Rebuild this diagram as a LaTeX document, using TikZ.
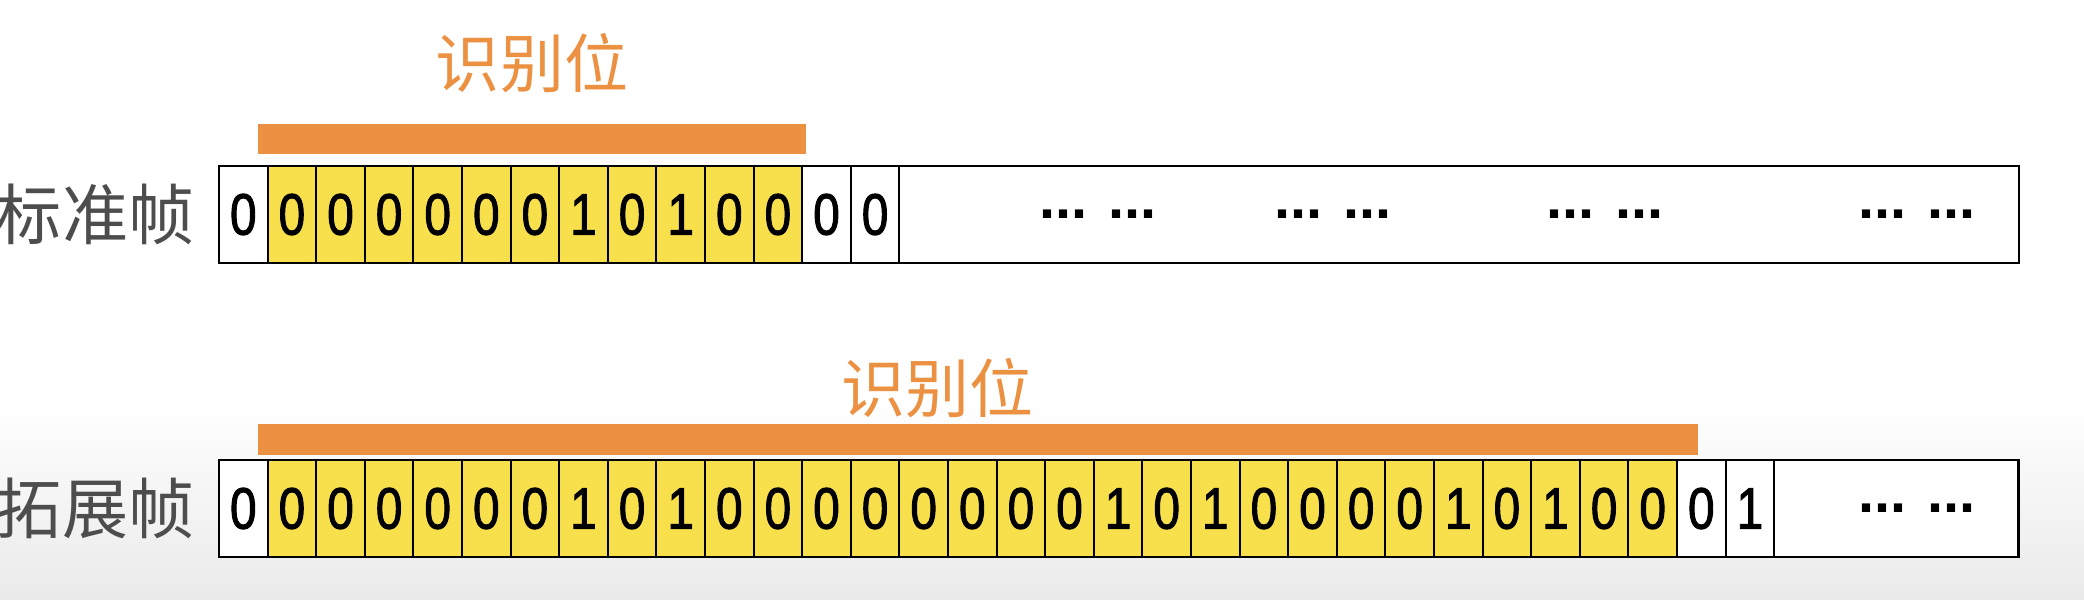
\documentclass[tikz,border=0pt]{standalone}
\usepackage{fontspec}
\setmainfont{Liberation Sans}
\newfontfamily\cjk{Noto Sans CJK SC}
\newfontfamily\bitfont[FakeStretch=0.82,FakeBold=1.6]{Liberation Sans}
\usetikzlibrary{positioning}
\definecolor{idyellow}{RGB}{247,224,76}
\definecolor{idorange}{RGB}{236,145,66}
\definecolor{labelgray}{RGB}{77,77,77}
\definecolor{bggray}{RGB}{234,234,234}
\tikzset{
  bit/.style={draw,line width=0.6pt,outer sep=0pt,inner sep=0pt,minimum width=4.86mm,minimum height=9.7mm,
    font=\bitfont\fontsize{16.6}{16.6}\selectfont},
  tailbox/.style={draw,fill=white,line width=0.6pt,outer sep=0pt,inner sep=0pt,minimum height=9.7mm},
  frame/.style={line width=0.8pt},
  dots/.style={inner sep=0pt,font=\bfseries\fontsize{16.4}{16.4}\selectfont},
  rowlabel/.style={inner sep=0pt,text=labelgray,font=\cjk\fontsize{18.8}{18.8}\selectfont},
  idlabel/.style={inner sep=0pt,text=idorange,font=\cjk\fontsize{18.2}{18.2}\selectfont},
}

\begin{document}
\begin{tikzpicture}[x=0.01cm,y=-0.01cm]
\useasboundingbox (0,0) rectangle (2084,600);
% background
\fill[white] (0,0) rectangle (2084,400);
\shade[top color=white,bottom color=bggray] (0,400) rectangle (2084,600);
% standard frame: SOF, 11 id bits, RTR, IDE
\foreach \b [count=\i from 0] in {0,0,0,0,0,0,0,1,0,1,0,0,0,0}{
  \ifnum\i=0 \def\fc{white}\else\ifnum\i<12 \def\fc{idyellow}\else\def\fc{white}\fi\fi
  \node[bit,fill=\fc] (s\i) at (243.3+48.6*\i,214.5) {\b};
}
\node[tailbox,right=0pt of s13,minimum width=111.9mm] (stail) {};
\draw[frame] (s0.north west) rectangle (stail.south east);
\foreach \x [count=\k] in {1098,1333,1605,1917} \node[dots] (sdots\k) at (\x,214.5) {... ...};
\node[rowlabel,left=2.4mm of s0] (stdname) {标准帧};
\fill[idorange] (258,124) rectangle (806,154);
\node[idlabel] (stdid) at (532,63) {识别位};
% extended frame: SOF, 29 id bits, two more
\foreach \b [count=\i from 0] in {0,0,0,0,0,0,0,1,0,1,0,0,0,0,0,0,0,0,1,0,1,0,0,0,0,1,0,1,0,0,0,1}{
  \ifnum\i=0 \def\fc{white}\else\ifnum\i<30 \def\fc{idyellow}\else\def\fc{white}\fi\fi
  \node[bit,fill=\fc] (e\i) at (243.3+48.6*\i,508.5) {\b};
}
\node[tailbox,right=0pt of e31,minimum width=24.4mm] (etail) {};
\draw[frame] (e0.north west) rectangle (etail.south east);
\node[dots] (edots1) at (1917,508.5) {... ...};
\node[rowlabel,left=2.4mm of e0] (extname) {拓展帧};
\fill[idorange] (258,424) rectangle (1698,455);
\node[idlabel] (extid) at (937,388) {识别位};
\end{tikzpicture}
\end{document}
